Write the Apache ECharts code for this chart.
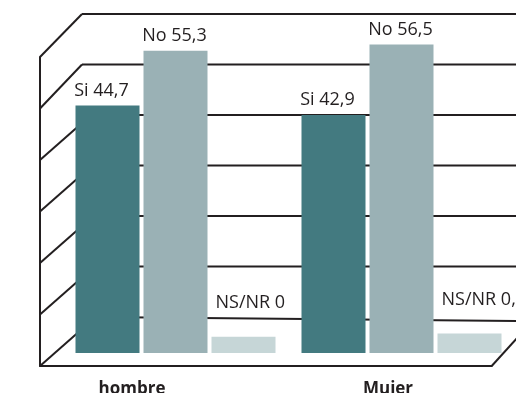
<!DOCTYPE html>
<html>
<head>
<meta charset="utf-8">
<script src="https://cdn.jsdelivr.net/npm/echarts@6/dist/echarts.min.js"></script>
<style>
  html, body { margin: 0; padding: 0; background: #ffffff; }
  #chart { width: 516px; height: 393px; }
</style>
</head>
<body>
<div id="chart"></div>
<script>
// Answers by sex: Si / No / NS-NR (percent)
const categories = ['hombre', 'Mujer'];
const seriesNames = ['Si', 'No', 'NS/NR'];
const siValues = [44.7, 42.9];
const noValues = [55.3, 56.5];
const nsnrValues = [0, 0.6];
// Value ticks shared by the back wall and the side wall
const wallTicks = [0, 10, 20, 30, 40, 50, 60];

const COLORS = ['#437a80', '#9ab1b5', '#c6d6d7'];
const LINE = '#231f20';
const TEXT = '#231f20';
const FONT = '"Open Sans", "Noto Sans", sans-serif';
const BAR_W = 64;
const BAR_STEP = 68;      // centre-to-centre distance inside a cluster
const DEPTH = 16.3;       // visible top face of each column
const LABEL_RISE = [16, 16, 35];
const LABEL_SHIFT = [-6, -1, 0];
const CATEGORY_LABEL_Y = 389;

function fmt(v) { return String(v).replace('.', ','); }

function makeRender(slot) {
  return function (params, api) {
    const i = api.value(0);
    const v = api.value(1);
    const base = api.coord([i, 0]);
    const top = api.coord([i, v]);
    const cx = base[0] + (slot - 1) * BAR_STEP;
    const x0 = cx - BAR_W / 2;
    const h = base[1] - top[1] + DEPTH;
    const text = seriesNames[slot] + ' ' + fmt(v);
    const isLeft = slot === 2;
    return {
      type: 'group',
      children: [
        {
          type: 'rect',
          shape: { x: x0, y: top[1], width: BAR_W, height: h },
          style: { fill: COLORS[slot] }
        },
        {
          type: 'text',
          x: isLeft ? x0 + 4 : cx + LABEL_SHIFT[slot],
          y: top[1] - LABEL_RISE[slot] + 1,
          style: {
            text: text,
            fill: TEXT,
            font: '18px ' + FONT,
            align: isLeft ? 'left' : 'center',
            verticalAlign: 'middle'
          }
        }
      ]
    };
  };
}

const valueLists = [siValues, noValues, nsnrValues];

const chart = echarts.init(document.getElementById('chart'), null, { renderer: 'canvas' });

chart.setOption({
  animation: false,
  backgroundColor: '#ffffff',
  grid: [
    // columns
    { left: 62.5, width: 452, top: 26.5, height: 310.2 },
    // back wall
    { left: 82, right: 0, top: 14, height: 303 },
    // front frame (side wall edge and floor edge)
    { left: 40, width: 451.7, top: 57, height: 309 },
    // band used to place the category names under the floor
    { left: 4, width: 512, top: 300, height: 72 }
  ],
  xAxis: [
    { gridIndex: 0, type: 'category', data: categories, show: false },
    { gridIndex: 1, type: 'value', min: 0, max: 1, show: false },
    {
      gridIndex: 2, type: 'value', min: 0, max: 1,
      axisLine: { show: true, lineStyle: { color: LINE, width: 2 } },
      axisTick: { show: false }, axisLabel: { show: false }, splitLine: { show: false }
    },
    { gridIndex: 3, type: 'category', data: categories, show: false }
  ],
  yAxis: [
    { gridIndex: 0, type: 'value', min: 0, max: 60, show: false },
    { gridIndex: 1, type: 'value', min: 0, max: 60, interval: 10, show: false },
    {
      gridIndex: 2, type: 'value', min: 0, max: 60, interval: 10,
      axisLine: { show: true, lineStyle: { color: LINE, width: 2 } },
      axisTick: { show: false }, axisLabel: { show: false }, splitLine: { show: false }
    },
    { gridIndex: 3, type: 'value', show: false }
  ],
  series: valueLists.map(function (vals, slot) {
    return {
      type: 'custom',
      name: seriesNames[slot],
      xAxisIndex: 0,
      yAxisIndex: 0,
      z: 5,
      clip: false,
      renderItem: makeRender(slot),
      encode: { x: 0, y: 1 },
      data: vals.map(function (v, i) { return [i, v]; })
    };
  })
});

// Perspective frame: back-wall rules, receding side-wall rules, floor edge,
// plus the category names
function buildFrame() {
  const els = [];
  const lineStyle = { stroke: LINE, lineWidth: 2 };
  wallTicks.forEach(function (v) {
    const back = chart.convertToPixel({ gridIndex: 1 }, [0, v]);
    const backRight = chart.convertToPixel({ gridIndex: 1 }, [1, v]);
    const front = chart.convertToPixel({ gridIndex: 2 }, [0, v]);
    // upper rules recede more steeply than the lower ones
    const slope = v >= 50 ? null : 0.88;
    const bx = slope === null ? back[0] : front[0] + (front[1] - back[1]) / slope;
    const tilt = v === 0 ? 4 : 0;
    els.push({
      type: 'line', z: 0, silent: true,
      shape: { x1: front[0], y1: front[1], x2: bx, y2: back[1] },
      style: lineStyle
    });
    els.push({
      type: 'line', z: 0, silent: true,
      shape: { x1: bx, y1: back[1], x2: backRight[0] + 10, y2: back[1] + tilt },
      style: lineStyle
    });
  });
  // right edge of the floor, receding
  const corner = chart.convertToPixel({ gridIndex: 2 }, [1, 0]);
  els.push({
    type: 'line', z: 0, silent: true,
    shape: { x1: corner[0], y1: corner[1], x2: corner[0] + 40, y2: corner[1] - 44 },
    style: lineStyle
  });
  categories.forEach(function (name) {
    const x = chart.convertToPixel({ xAxisIndex: 3 }, name);
    els.push({
      type: 'text', z: 1, silent: true,
      x: x, y: CATEGORY_LABEL_Y,
      style: {
        text: name, fill: TEXT, font: 'bold 17px ' + FONT,
        align: 'center', verticalAlign: 'middle'
      }
    });
  });
  chart.setOption({ graphic: { elements: els } });
}
buildFrame();
</script>
</body>
</html>
